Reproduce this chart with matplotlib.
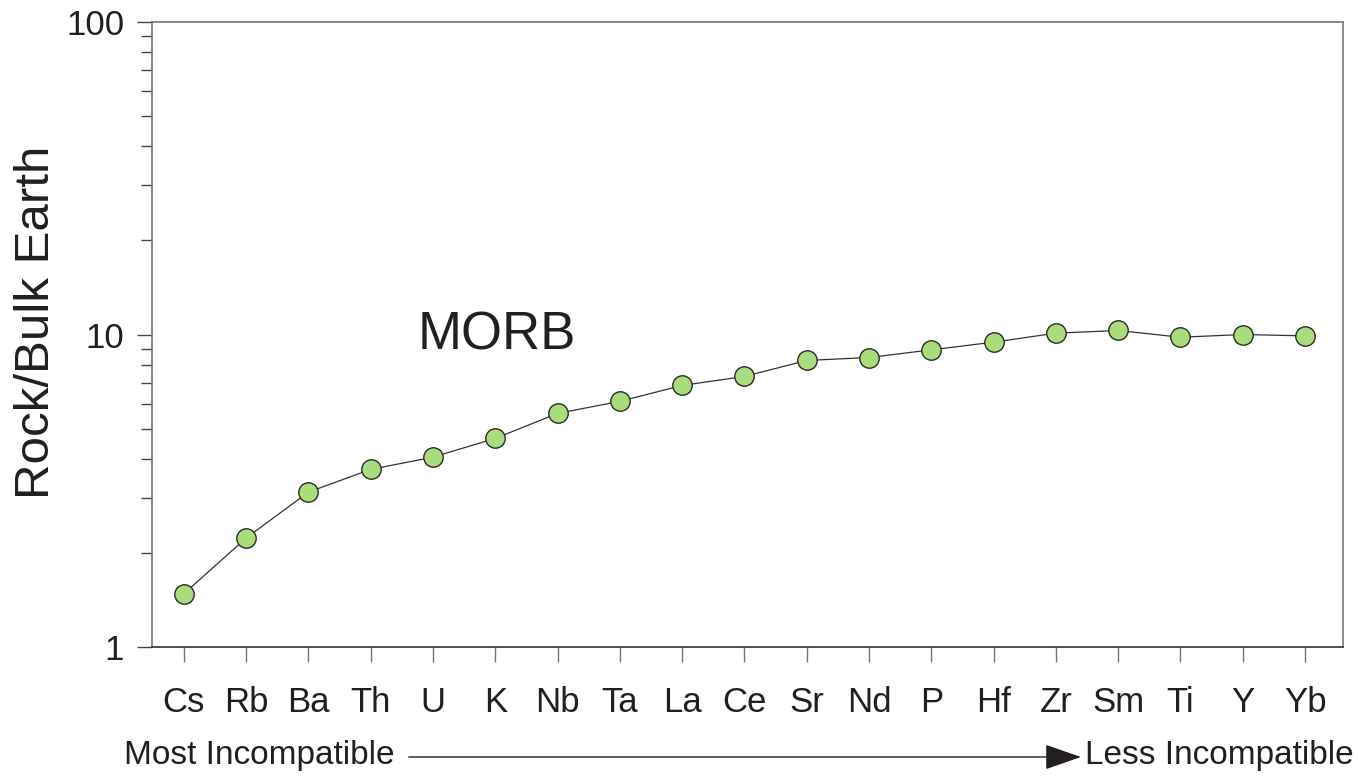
import matplotlib
matplotlib.use('Agg')
import matplotlib.pyplot as plt
from matplotlib.ticker import LogLocator, NullFormatter, FixedFormatter

plt.rcParams['font.family'] = ['Liberation Sans', 'DejaVu Sans']

# Element order (most -> less incompatible) and MORB / bulk earth ratios
elements = ['Cs', 'Rb', 'Ba', 'Th', 'U', 'K', 'Nb', 'Ta', 'La', 'Ce',
            'Sr', 'Nd', 'P', 'Hf', 'Zr', 'Sm', 'Ti', 'Y', 'Yb']
morb = [1.48, 2.23, 3.13, 3.70, 4.05, 4.65, 5.59, 6.11, 6.87, 7.34,
        8.26, 8.44, 8.93, 9.45, 10.1, 10.3, 9.8, 10.0, 9.9]
y_ticks = [1, 10, 100]

ink = '#231f20'
x = list(range(len(elements)))

fig = plt.figure(figsize=(13.58, 7.78), dpi=100)
ax = fig.add_axes([0.1119, 0.1684, 0.8771, 0.8033])

ax.plot(x, morb, color='#333333', lw=0.9, zorder=2)
ax.plot(x, morb, ls='none', marker='o', ms=14, mfc='#a9dc7c',
        mec='#2b2b2b', mew=1.0, zorder=3)

ax.set_yscale('log')
ax.set_ylim(1, 100)
ax.set_xlim(-0.51, 18.61)

ax.set_yticks(y_ticks)
ax.yaxis.set_major_formatter(FixedFormatter([str(v) for v in y_ticks]))
ax.yaxis.set_minor_locator(LogLocator(base=10, subs=range(2, 10)))
ax.yaxis.set_minor_formatter(NullFormatter())

ax.set_xticks(x)
ax.set_xticklabels(elements)

ax.tick_params(axis='y', which='major', length=11, width=1, color='#444444',
               labelsize=25, labelcolor=ink, pad=9)
ax.tick_params(axis='y', which='minor', length=8, width=1, color='#444444')
ax.tick_params(axis='x', which='major', length=11, width=1, color='#777777',
               labelsize=25, labelcolor=ink, pad=17)

for side in ['top', 'right', 'left']:
    ax.spines[side].set_color('#777777')
    ax.spines[side].set_linewidth(1.2)
ax.spines['bottom'].set_color('#333333')
ax.spines['bottom'].set_linewidth(1.2)

ax.set_ylabel('Rock/Bulk Earth', fontsize=35.5, color=ink, va='center')
ax.yaxis.set_label_coords(-0.0966, 0.52)

ax.text(0.223, 0.499, 'MORB', transform=ax.transAxes, fontsize=38,
        color=ink, ha='left', va='center')

# incompatibility arrow under the element labels
fig.text(0.0913, 0.029, 'Most Incompatible', fontsize=24, color=ink,
         ha='left', va='center')
fig.text(0.799, 0.029, 'Less Incompatible', fontsize=24, color=ink,
         ha='left', va='center')
ax.annotate('', xy=(0.796, 0.027), xytext=(0.301, 0.027),
            xycoords='figure fraction', textcoords='figure fraction',
            arrowprops=dict(arrowstyle='-|>,head_length=1.15,head_width=0.4',
                            mutation_scale=20, color=ink, lw=1.0,
                            shrinkA=0, shrinkB=0))

fig.savefig('out.png', dpi=100)
